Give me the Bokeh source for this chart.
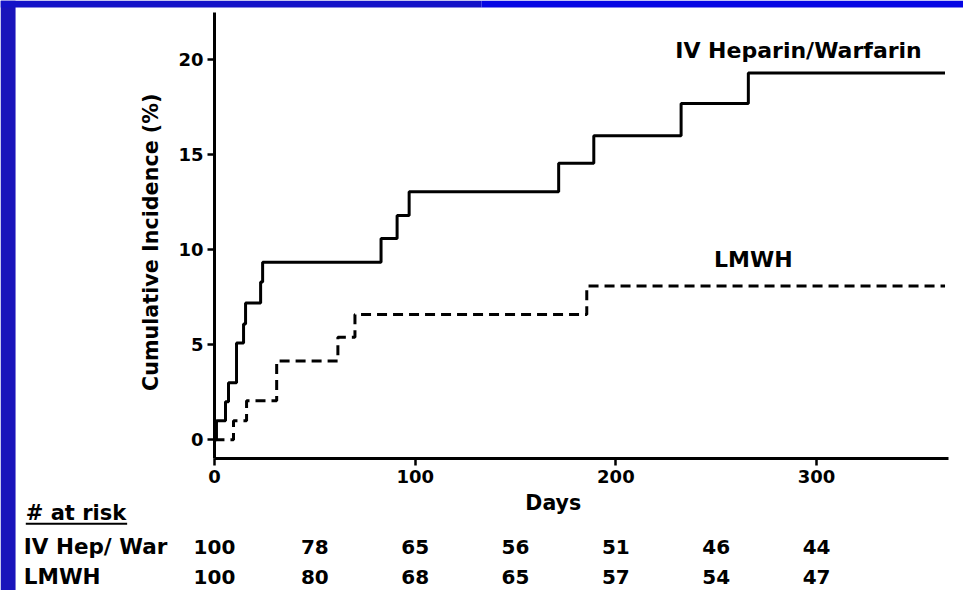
import math
from bokeh.plotting import figure
from bokeh.models import Range1d, FixedTicker, BoxAnnotation
from bokeh.core.properties import value
from bokeh.embed import file_html
from bokeh.resources import INLINE

# ---- data ----
iv_days = [0, 1, 5.5, 7, 11, 14.5, 15.5, 23, 24, 83, 91, 97, 171.5, 189, 232.5, 266, 364]
iv_values = [0, 1.0, 2.0, 3.0, 5.1, 6.1, 7.2, 8.3, 9.35, 10.6, 11.8, 13.05, 14.55, 16.0, 17.7, 19.3, 19.3]

lmwh_days = [0, 9.5, 16, 31, 61.5, 70, 185.5, 364]
lmwh_values = [0, 1.0, 2.05, 4.15, 5.4, 6.6, 8.1, 8.1]

risk_days = [0, 50, 100, 150, 200, 250, 300]
iv_risk = [100, 78, 65, 56, 51, 46, 44]
lmwh_risk = [100, 80, 68, 65, 57, 54, 47]

x_ticks = [0, 100, 200, 300]
y_ticks = [0, 5, 10, 15, 20]

series_names = ["IV Heparin/Warfarin", "LMWH"]
row_names = ["IV Hep/ War", "LMWH"]

FONT = "DejaVu Sans"
SHIFT = 0.42  # baseline correction for rendered text (in y units)

# whole canvas is the data frame; axes are placed with fixed_location
p = figure(width=963, height=590, output_backend="svg", toolbar_location=None,
           x_range=Range1d(-106.6, 373.2), y_range=Range1d(-7.93, 23.12),
           min_border_left=0, min_border_right=0, min_border_top=0, min_border_bottom=0)
p.xgrid.visible = False
p.ygrid.visible = False
p.outline_line_color = None
p.background_fill_color = "white"
p.border_fill_color = "white"

p.xaxis.ticker = FixedTicker(ticks=x_ticks)
p.yaxis.ticker = FixedTicker(ticks=y_ticks)
p.xaxis.fixed_location = -1
p.yaxis.fixed_location = 0
p.xaxis.bounds = (0, 365.7)
p.yaxis.bounds = (-1, 22.5)
for ax in (p.xaxis[0], p.yaxis[0]):
    ax.axis_line_width = 3
    ax.axis_line_color = "black"
    ax.major_tick_line_width = 2.5
    ax.major_tick_line_color = "black"
    ax.major_tick_out = 7
    ax.major_tick_in = 0
    ax.minor_tick_out = 0
    ax.minor_tick_in = 0
    ax.major_label_text_font = FONT
    ax.major_label_text_font_style = "bold"
    ax.major_label_text_font_size = "18px"
    ax.major_label_text_color = "black"
    ax.major_label_standoff = 4

# curves
p.step(iv_days, iv_values, mode="after", line_width=3, line_color="black")
p.step(lmwh_days, lmwh_values, mode="after", line_width=3, line_color="black", line_dash="10 6")

def txt(xs, ys, texts, size, align="left"):
    p.text(x=xs, y=[y + SHIFT for y in ys], text=texts, text_font=value(FONT),
           text_font_style="bold", text_font_size=size, text_align=align,
           text_baseline="alphabetic", text_color="black")

# series annotations
txt([291], [20.07], [series_names[0]], "22px", align="center")
txt([268.5], [9.08], [series_names[1]], "22px", align="center")

# axis titles
p.text(x=[-31.8], y=[10.4], text=["Cumulative Incidence (%)"], text_font=value(FONT),
       text_font_style="bold", text_font_size="20.7px", text_align="center",
       text_baseline="middle", text_color="black", angle=math.pi / 2)
txt([168.8], [-3.74], ["Days"], "20.5px", align="center")

# at-risk table
txt([-94], [-4.27], ["# at risk"], "21px")
p.segment(x0=[-94], y0=[-4.42], x1=[-43.5], y1=[-4.42], line_width=2, line_color="black")
row_y = [-6.06, -7.62]
txt([-95], [row_y[0]], [row_names[0]], "21.5px")
txt([-95], [row_y[1]], [row_names[1]], "21.5px")
txt(risk_days, [row_y[0]] * len(risk_days), [str(v) for v in iv_risk], "20px", align="center")
txt(risk_days, [row_y[1]] * len(risk_days), [str(v) for v in lmwh_risk], "20px", align="center")

# blue slide frame strips (left and top)
p.add_layout(BoxAnnotation(left=-106.6, right=-99.1, bottom=-7.93, top=23.12,
                           fill_color="#1a14bb", fill_alpha=1.0, line_color=None))
p.add_layout(BoxAnnotation(left=-106.6, right=133, bottom=22.75, top=23.12,
                           fill_color="#1412c8", fill_alpha=1.0, line_color=None))
p.add_layout(BoxAnnotation(left=133, right=373.2, bottom=22.75, top=23.12,
                           fill_color="#0606e4", fill_alpha=1.0, line_color=None))

open("out.html", "w").write(file_html(p, INLINE))
